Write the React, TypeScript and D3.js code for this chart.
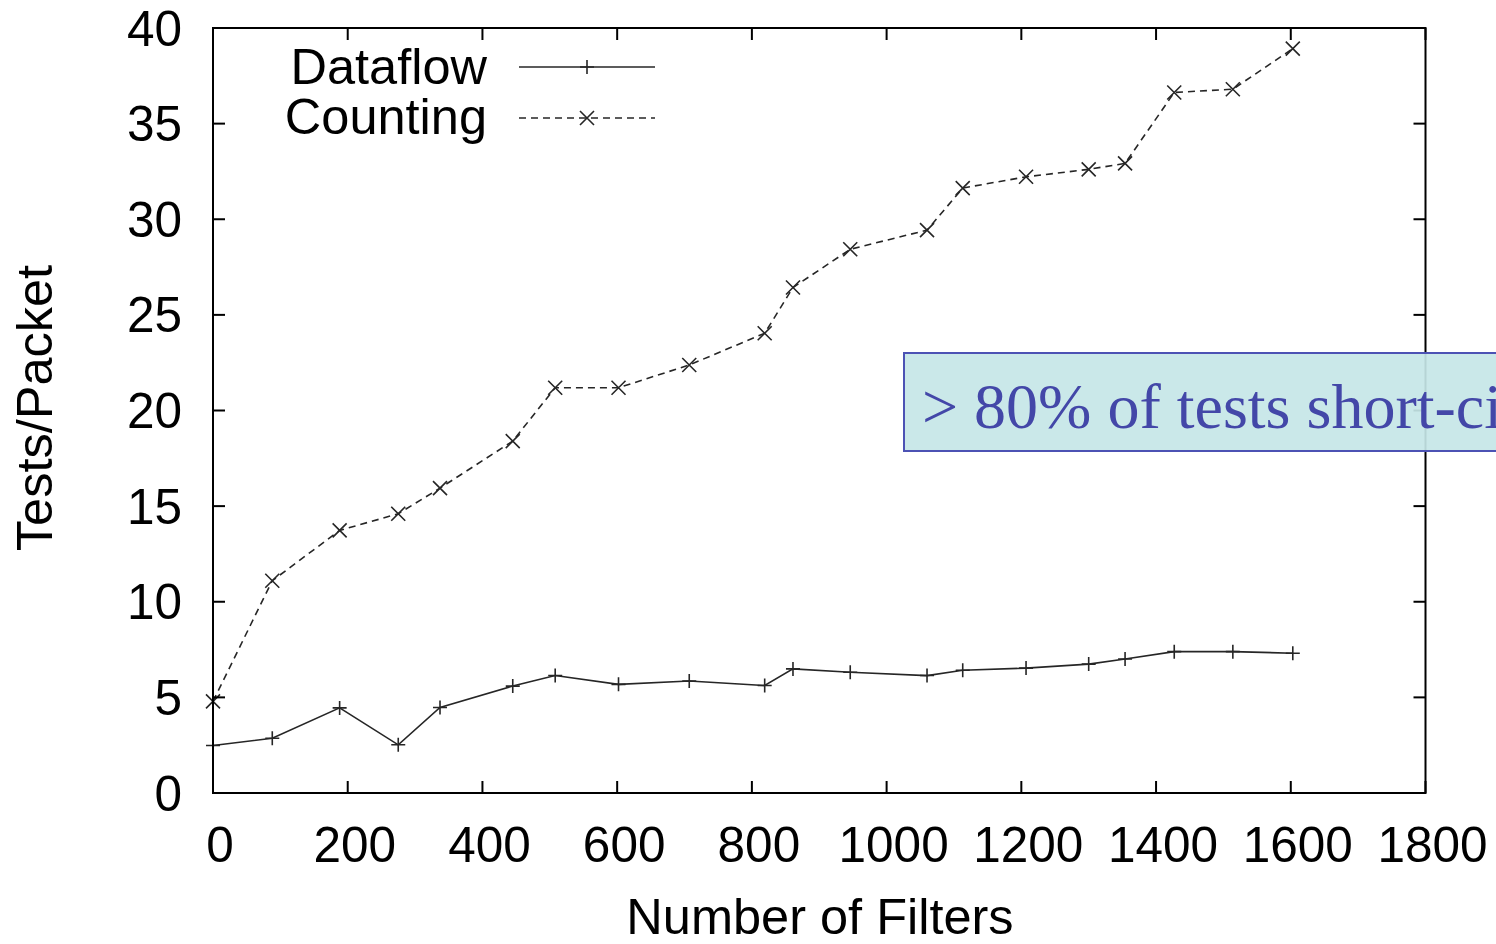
import React from "react";
import * as d3 from "d3";

const filters = [0, 88, 188, 275, 337, 445, 508, 602, 707, 819, 861, 946, 1060, 1113, 1207, 1300, 1354, 1427, 1514, 1603];
const dataflow = [2.48, 2.86, 4.45, 2.52, 4.47, 5.59, 6.14, 5.68, 5.86, 5.62, 6.49, 6.31, 6.14, 6.42, 6.53, 6.74, 7.01, 7.39, 7.39, 7.31];
const counting = [4.79, 11.1, 13.73, 14.6, 15.94, 18.4, 21.19, 21.19, 22.38, 24.04, 26.43, 28.43, 29.43, 31.63, 32.22, 32.61, 32.92, 36.63, 36.8, 38.92];
const xTicks = [0, 200, 400, 600, 800, 1000, 1200, 1400, 1600, 1800];
const yTicks = [0, 5, 10, 15, 20, 25, 30, 35, 40];
const seriesNames = ["Dataflow", "Counting"];
const annotationText = "> 80% of tests short-circuited";

const W = 1496;
const H = 944;
const L = 213, R = 1425.5, T = 28, B = 793;
const TICK = 12;
const SANS = "'Liberation Sans', Arial, Helvetica, sans-serif";
const SERIF = "'Liberation Serif', 'Times New Roman', serif";
const LINE = "#262626";

function Plus({ x, y, s = 7 }: { x: number; y: number; s?: number }) {
  return <path d={`M${x - s},${y}H${x + s}M${x},${y - s}V${y + s}`} stroke={LINE} strokeWidth={1.6} fill="none" />;
}
function Cross({ x, y, s = 7 }: { x: number; y: number; s?: number }) {
  return <path d={`M${x - s},${y - s}L${x + s},${y + s}M${x - s},${y + s}L${x + s},${y - s}`} stroke={LINE} strokeWidth={1.6} fill="none" />;
}

export default function App() {
  const x = d3.scaleLinear().domain([0, 1800]).range([L, R]);
  const y = d3.scaleLinear().domain([0, 40]).range([B, T]);
  const line = d3.line<[number, number]>().x((d) => x(d[0])).y((d) => y(d[1]));
  const dfPts: [number, number][] = filters.map((f, i) => [f, dataflow[i]]);
  const ctPts: [number, number][] = filters.map((f, i) => [f, counting[i]]);

  return (
    <svg width={W} height={H} style={{ position: "absolute", left: 0, top: 0, background: "#fff" }}>
      <rect x={0} y={0} width={W} height={H} fill="#fff" />
      {/* data */}
      <path d={line(dfPts) || ""} fill="none" stroke={LINE} strokeWidth={1.6} />
      <path d={line(ctPts) || ""} fill="none" stroke={LINE} strokeWidth={1.6} strokeDasharray="7,5" />
      {dfPts.map((d, i) => <Plus key={"p" + i} x={x(d[0])} y={y(d[1])} />)}
      {ctPts.map((d, i) => <Cross key={"c" + i} x={x(d[0])} y={y(d[1])} />)}

      {/* ticks */}
      {xTicks.map((t) => (
        <g key={"xt" + t}>
          <line x1={x(t)} x2={x(t)} y1={B} y2={B - TICK} stroke="#000" strokeWidth={2} />
          <line x1={x(t)} x2={x(t)} y1={T} y2={T + TICK} stroke="#000" strokeWidth={2} />
          <text x={x(t) + 7} y={862} textAnchor="middle" fontFamily={SANS} fontSize={49.5} fill="#000">{t}</text>
        </g>
      ))}
      {yTicks.map((t) => (
        <g key={"yt" + t}>
          <line x1={L} x2={L + TICK} y1={y(t)} y2={y(t)} stroke="#000" strokeWidth={2} />
          <line x1={R} x2={R - TICK} y1={y(t)} y2={y(t)} stroke="#000" strokeWidth={2} />
          <text x={182} y={y(t) + 17.5} textAnchor="end" fontFamily={SANS} fontSize={49.5} fill="#000">{t}</text>
        </g>
      ))}
      <rect x={L} y={T} width={R - L} height={B - T} fill="none" stroke="#000" strokeWidth={2} />

      {/* axis titles */}
      <text x={820} y={934} textAnchor="middle" fontFamily={SANS} fontSize={50.5} fill="#000">Number of Filters</text>
      <text transform={`translate(52,408) rotate(-90)`} textAnchor="middle" fontFamily={SANS} fontSize={50.5} fill="#000">Tests/Packet</text>

      {/* legend */}
      <text x={487} y={84} textAnchor="end" fontFamily={SANS} fontSize={50.5} fill="#000">{seriesNames[0]}</text>
      <line x1={519} x2={655} y1={67} y2={67} stroke={LINE} strokeWidth={1.6} />
      <Plus x={587} y={67} />
      <text x={487} y={134} textAnchor="end" fontFamily={SANS} fontSize={50.5} fill="#000">{seriesNames[1]}</text>
      <line x1={519} x2={655} y1={118} y2={118} stroke={LINE} strokeWidth={1.6} strokeDasharray="7,5" />
      <Cross x={587} y={118} />

      {/* annotation */}
      <rect x={904} y={353} width={720} height={98} fill="#c6e6e7" fillOpacity={0.92} stroke="#4c52b4" strokeWidth={2} />
      <text x={922} y={428} fontFamily={SERIF} fontSize={64} fill="#4347a8">{annotationText}</text>
    </svg>
  );
}
